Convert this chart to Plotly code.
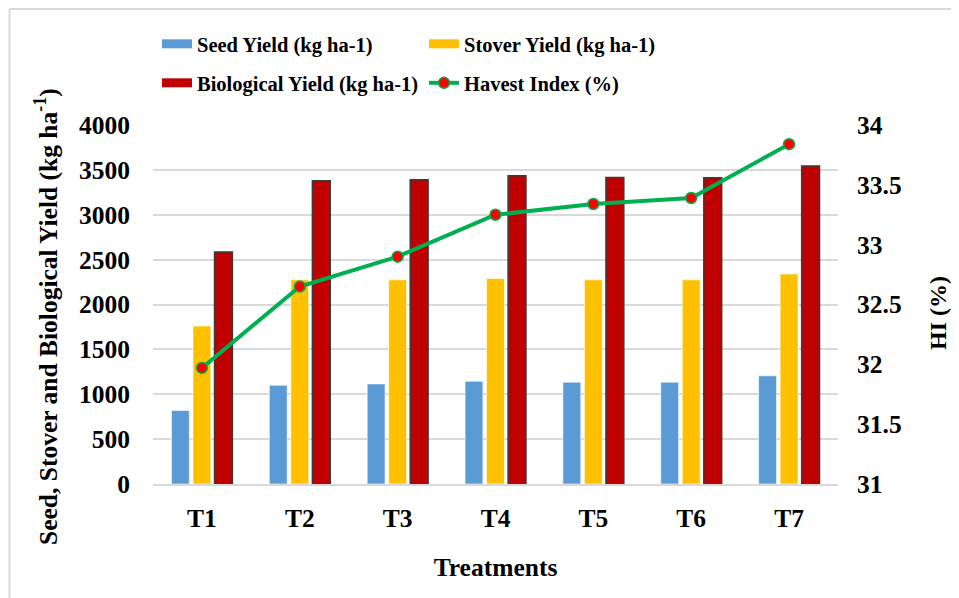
import plotly.graph_objects as go

treatments = ["T1", "T2", "T3", "T4", "T5", "T6", "T7"]
seed_yield = [820, 1100, 1115, 1145, 1135, 1135, 1205]
stover_yield = [1760, 2275, 2275, 2290, 2275, 2275, 2340]
bio_yield = [2585, 3378, 3390, 3435, 3415, 3413, 3543]
harvest_index = [31.97, 32.65, 32.90, 33.25, 33.34, 33.39, 33.84]

left_ticks = [0, 500, 1000, 1500, 2000, 2500, 3000, 3500, 4000]
right_ticks = [31, 31.5, 32, 32.5, 33, 33.5, 34]

C_SEED = "#5B9BD5"
C_STOVER = "#FFC000"
C_BIO = "#C00000"
C_LINE = "#00B050"
C_MARK = "#FF0000"
FONT = "Times New Roman, Liberation Serif, serif"

# page body has an 8px margin -> figure drawn at (8, 8)
W, H = 951, 590
L, T, R, B = 145, 117, 121, 114

fig = go.Figure()
fig.add_bar(x=treatments, y=seed_yield, name="Seed Yield (kg ha-1)",
            marker=dict(color=C_SEED, line=dict(color="rgba(255,255,255,0.6)", width=1)),
            showlegend=False)
fig.add_bar(x=treatments, y=stover_yield, name="Stover Yield (kg ha-1)",
            marker=dict(color=C_STOVER, line=dict(color="rgba(255,255,255,0.6)", width=1)),
            showlegend=False)
fig.add_bar(x=treatments, y=bio_yield, name="Biological Yield (kg ha-1)",
            marker=dict(color=C_BIO, line=dict(color="#3a3a3a", width=1.5)),
            showlegend=False)
fig.add_scatter(x=treatments, y=harvest_index, name="Havest Index (%)", yaxis="y2",
                mode="lines+markers",
                line=dict(color=C_LINE, width=4),
                marker=dict(color=C_MARK, size=11, line=dict(color=C_LINE, width=1.5)),
                showlegend=False)

# legend entries (wide swatches like the original)
fig.add_scatter(x=[None], y=[None], mode="lines", name="<b>Seed Yield (kg ha-1)</b>",
                line=dict(color=C_SEED, width=9), legend="legend")
fig.add_scatter(x=[None], y=[None], mode="lines", name="<b>Stover Yield (kg ha-1)</b>",
                line=dict(color=C_STOVER, width=9), legend="legend")
fig.add_scatter(x=[None], y=[None], mode="lines", name="<b>Biological Yield (kg ha-1)</b>",
                line=dict(color=C_BIO, width=9), legend="legend2")
fig.add_scatter(x=[None], y=[None], mode="lines+markers", name="<b>Havest Index (%)</b>",
                line=dict(color=C_LINE, width=4),
                marker=dict(color=C_MARK, size=11, line=dict(color=C_LINE, width=1.5)),
                legend="legend2")

legend_common = dict(orientation="h", xref="container", yref="container",
                     x=149 / W, xanchor="left", yanchor="middle",
                     entrywidth=222, entrywidthmode="pixels",
                     font=dict(family=FONT, size=20.5, color="black"),
                     bgcolor="rgba(0,0,0,0)", itemclick=False)

def b(t):
    return "<b>" + t + "</b>"

PW = W - L - R
PH = H - T - B

fig.update_layout(
    width=W, height=H,
    margin=dict(l=L, r=R, t=T, b=B, autoexpand=False),
    paper_bgcolor="white", plot_bgcolor="white",
    font=dict(family=FONT, color="black"),
    barmode="group", bargap=0.34, bargroupgap=0.17,
    legend=dict(legend_common, y=1 - 36 / H),
    legend2=dict(legend_common, y=1 - 75 / H),
    xaxis=dict(
        title=dict(text=b("Treatments"), font=dict(size=25.5, family=FONT), standoff=27),
        tickfont=dict(size=25.5, family=FONT),
        tickvals=treatments, ticktext=[b(t) for t in treatments],
        showline=True, linecolor="#D9D9D9", linewidth=2,
        ticks="", showgrid=False, ticklabelstandoff=10, automargin=False,
    ),
    yaxis=dict(
        range=[0, 4000], tickvals=left_ticks, ticktext=[b(str(v)) for v in left_ticks],
        tickfont=dict(size=25.5, family=FONT),
        showgrid=True, gridcolor="#D9D9D9", gridwidth=1.5,
        zeroline=False, showline=False, ticks="", ticklabelstandoff=22, automargin=False,
    ),
    yaxis2=dict(
        overlaying="y", side="right",
        range=[31, 34], tickvals=right_ticks, ticktext=[b(f"{v:g}") for v in right_ticks],
        tickfont=dict(size=25.5, family=FONT),
        showgrid=False, zeroline=False, showline=False, ticks="", ticklabelstandoff=18,
        automargin=False,
    ),
    annotations=[
        dict(text=b("Seed, Stover and Biological Yield (kg ha<sup>-1</sup>)"),
             textangle=-90, xref="paper", yref="paper",
             x=(46 - 8 - L) / PW, y=1 - (317 - 8 - T) / PH,
             xanchor="center", yanchor="middle", showarrow=False,
             font=dict(size=25.5, family=FONT, color="black")),
        dict(text=b("HI (%)"),
             textangle=-90, xref="paper", yref="paper",
             x=(938 - 8 - L) / PW, y=1 - (313 - 8 - T) / PH,
             xanchor="center", yanchor="middle", showarrow=False,
             font=dict(size=24, family=FONT, color="black")),
    ],
    shapes=[
        dict(type="line", xref="paper", yref="paper",
             x0=(1 - L) / PW, x1=(W - L) / PW + 0.05,
             y0=1 + (T - 1) / PH, y1=1 + (T - 1) / PH,
             line=dict(color="#D9D9D9", width=2)),
        dict(type="line", xref="paper", yref="paper",
             x0=(1.5 - L) / PW, x1=(1.5 - L) / PW,
             y0=1 + (T - 1) / PH, y1=-B / PH - 0.05,
             line=dict(color="#D9D9D9", width=2)),
    ],
)

fig.write_html("out.html")
